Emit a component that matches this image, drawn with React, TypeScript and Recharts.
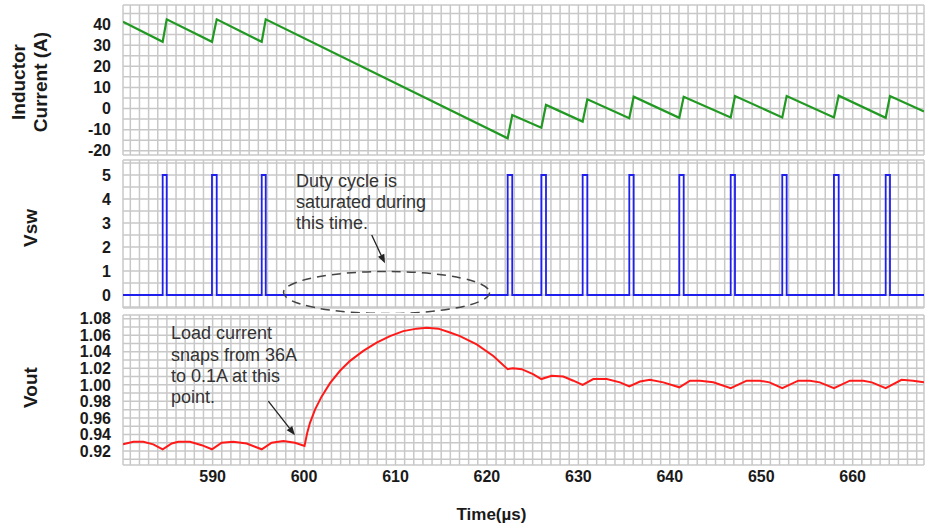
import { LineChart, Line, XAxis, YAxis, CartesianGrid, ReferenceDot, ReferenceLine } from 'recharts'

const FONT = '"Liberation Sans", Arial, Helvetica, sans-serif'
const W = 928

// time axis in µs
const timeDomain: [number, number] = [580.2, 667.8]
const timeLabels = [590, 600, 610, 620, 630, 640, 650, 660]
const timeGrid = Array.from({ length: 87 }, (_, k) => 581 + k)

// inductor current (A), corners of the ripple: [time, amps]
const inductorCurrent: [number, number][] = [
  [580.2, 41.1],
  [584.54, 31.6], [584.98, 42.2],
  [589.93, 31.6], [590.45, 42.2],
  [595.37, 31.6], [595.81, 42.2],
  [622.27, -14.1], [622.77, -3.1],
  [625.95, -9.1], [626.46, 1.7],
  [630.47, -6.2], [630.98, 4.4],
  [635.57, -4.6], [636.05, 5.6],
  [641.04, -4.4], [641.52, 5.6],
  [646.66, -4.2], [647.13, 5.9],
  [652.3, -4.2], [652.78, 5.9],
  [657.95, -4.2], [658.47, 6.1],
  [663.61, -4.4], [664.08, 5.9],
  [667.8, -1.4],
]
const currentLabels = [-20, -10, 0, 10, 20, 30, 40]
const currentGrid = [-20, -15, -10, -5, 0, 5, 10, 15, 20, 25, 30, 35, 40, 45]

// switch node: [on, off] of each pulse
const vswPulses: [number, number][] = [
  [584.54, 584.98], [589.93, 590.45], [595.37, 595.81],
  [622.27, 622.77], [625.95, 626.46], [630.47, 630.98],
  [635.57, 636.05], [641.04, 641.52], [646.66, 647.13],
  [652.3, 652.78], [657.95, 658.47], [663.61, 664.08],
]
const vswHigh = 5
const vswLabels = [0, 1, 2, 3, 4, 5]
const vswGrid = [-0.5, 0, 0.5, 1, 1.5, 2, 2.5, 3, 3.5, 4, 4.5, 5, 5.5]

// output voltage (V): [time, volts]
const vout: [number, number][] = [
  [580.2, 0.928], [581.33, 0.931], [582.42, 0.931], [583.51, 0.928],
  [584.54, 0.922],
  [585.53, 0.929], [586.25, 0.931], [587.53, 0.931], [588.81, 0.927],
  [589.93, 0.922],
  [590.99, 0.93], [592.26, 0.931], [593.73, 0.929],
  [595.37, 0.922],
  [596.46, 0.93], [597.73, 0.932], [599.01, 0.93],
  [600.05, 0.926],
  [600.35, 0.942], [600.65, 0.954], [601.2, 0.97], [601.93, 0.986], [602.84, 1.002], [603.93, 1.017],
  [605.03, 1.029], [606.48, 1.041], [607.94, 1.051], [609.4, 1.059], [610.85, 1.065],
  [612.32, 1.068], [613.41, 1.069], [614.68, 1.068], [615.8, 1.064], [617.05, 1.059],
  [618.88, 1.049], [620.7, 1.035],
  [622.27, 1.019],
  [622.84, 1.02], [623.8, 1.019], [625.04, 1.013],
  [625.95, 1.007],
  [627.08, 1.011], [628.35, 1.01], [629.45, 1.005],
  [630.47, 1.0],
  [631.63, 1.007], [633.1, 1.007], [634.55, 1.003],
  [635.57, 0.998],
  [636.74, 1.004], [637.83, 1.006], [639.29, 1.003],
  [641.04, 0.997],
  [642.21, 1.005], [643.3, 1.005], [644.76, 1.003],
  [646.66, 0.996],
  [648.41, 1.005], [649.86, 1.005], [650.9, 1.003],
  [652.3, 0.996],
  [654.05, 1.005], [655.33, 1.005], [656.4, 1.003],
  [657.95, 0.996],
  [659.7, 1.005], [661.16, 1.005], [662.1, 1.003],
  [663.61, 0.996],
  [665.34, 1.006], [666.6, 1.005], [667.8, 1.003],
]
const voutLabels = [0.92, 0.94, 0.96, 0.98, 1.0, 1.02, 1.04, 1.06, 1.08]
const voutGrid = Array.from({ length: 18 }, (_, k) => (91 + k) / 100)

// annotations
const dutyNote = ['Duty cycle is', 'saturated during', 'this time.']
const loadNote = ['Load current', 'snaps from 36A', 'to 0.1A at this', 'point.']

const currentData = inductorCurrent.map(([t, v]) => ({ t, v }))
const vswData = [
  { t: timeDomain[0], v: 0 },
  ...vswPulses.flatMap(([on, off]) => [{ t: on, v: vswHigh }, { t: off, v: 0 }]),
  { t: timeDomain[1], v: 0 },
]
const voutData = vout.map(([t, v]) => ({ t, v }))

const gridProps = { stroke: '#c8c8c8', strokeWidth: 1.5 }
const tickStyle = { fill: '#1a1a1a', fontSize: 16, fontWeight: 700, fontFamily: FONT }

const onlyLabels = (labels: number[]) => (v: number) =>
  labels.some((l) => Math.abs(l - v) < 1e-6) ? String(v) : ''

function AxisTitle({ viewBox, lines, baseX, shiftY }: any) {
  const cy = viewBox.y + viewBox.height / 2 + shiftY
  return (
    <text
      x={baseX}
      y={cy}
      transform={`rotate(-90 ${baseX} ${cy})`}
      textAnchor="middle"
      fontSize={19}
      fontWeight={700}
      fill="#1a1a1a"
      fontFamily={FONT}
    >
      {lines.map((l: string, i: number) => (
        <tspan key={l} x={baseX} dy={i ? 22 : 0}>
          {l}
        </tspan>
      ))}
    </text>
  )
}

function Note({ cx, cy, lines }: any) {
  return (
    <text x={cx} y={cy} fontSize={18} fill="#333" fontFamily={FONT}>
      {lines.map((l: string, i: number) => (
        <tspan key={l} x={cx} dy={i ? 21.3 : 0}>
          {l}
        </tspan>
      ))}
    </text>
  )
}

function Arrow({ x1, y1, x2, y2 }: any) {
  const a = Math.atan2(y2 - y1, x2 - x1)
  const len = 9
  const half = 3.5
  const bx = x2 - len * Math.cos(a)
  const by = y2 - len * Math.sin(a)
  const p1 = `${bx + half * Math.sin(a)},${by - half * Math.cos(a)}`
  const p2 = `${bx - half * Math.sin(a)},${by + half * Math.cos(a)}`
  return (
    <g>
      <line x1={x1} y1={y1} x2={bx} y2={by} stroke="#222" strokeWidth={1.3} />
      <polygon points={`${x2},${y2} ${p1} ${p2}`} fill="#222" />
    </g>
  )
}

// time axis without labels, only there to feed the vertical grid
function HiddenTime() {
  return (
    <XAxis
      dataKey="t"
      type="number"
      domain={timeDomain}
      ticks={timeGrid}
      interval={0}
      allowDataOverflow
      height={1}
      tick={tickStyle}
      tickFormatter={() => ''}
      tickLine={false}
      axisLine={false}
    />
  )
}

export default function App() {
  return (
    <div
      style={{
        position: 'absolute',
        left: 0,
        top: 0,
        width: W,
        height: 525,
        background: '#fff',
        fontFamily: FONT,
        overflow: 'hidden',
      }}
    >
      {/* inductor current */}
      <div style={{ position: 'absolute', left: 0, top: 0 }}>
        <LineChart width={W} height={160} data={currentData} margin={{ top: 5, right: 4, bottom: 4, left: 0 }}>
          <CartesianGrid {...gridProps} />
          {HiddenTime()}
          <YAxis
            type="number"
            domain={[-22, 49]}
            ticks={currentGrid}
            interval={0}
            width={123}
            tickFormatter={onlyLabels(currentLabels)}
            tick={tickStyle}
            tickLine={false}
            axisLine={false}
            tickSize={6}
            tickMargin={6}
            label={{
              content: (p: any) => (
                <AxisTitle viewBox={p.viewBox} lines={['Inductor', 'Current (A)']} baseX={25} shiftY={2} />
              ),
            }}
          />
          <Line
            type="linear"
            dataKey="v"
            stroke="#229922"
            strokeWidth={2.2}
            dot={false}
            activeDot={false}
            isAnimationActive={false}
          />
        </LineChart>
      </div>

      {/* switch node voltage */}
      <div style={{ position: 'absolute', left: 0, top: 155 }}>
        <LineChart width={W} height={158} data={vswData} margin={{ top: 5, right: 4, bottom: 4, left: 0 }}>
          <CartesianGrid {...gridProps} />
          {HiddenTime()}
          <YAxis
            type="number"
            domain={[-0.542, 5.625]}
            ticks={vswGrid}
            interval={0}
            width={123}
            tickFormatter={onlyLabels(vswLabels)}
            tick={tickStyle}
            tickLine={false}
            axisLine={false}
            tickSize={6}
            tickMargin={6}
            label={{
              content: (p: any) => <AxisTitle viewBox={p.viewBox} lines={['Vsw']} baseX={36.5} shiftY={-6} />,
            }}
          />
          <Line
            type="stepAfter"
            dataKey="v"
            stroke="#1f1fee"
            strokeWidth={1.8}
            dot={false}
            activeDot={false}
            isAnimationActive={false}
          />
          <ReferenceDot
            x={609.02}
            y={0.104}
            shape={(p: any) => (
              <ellipse
                cx={p.cx}
                cy={p.cy}
                rx={103}
                ry={21}
                fill="none"
                stroke="#444"
                strokeWidth={1.5}
                strokeDasharray="9 6"
              />
            )}
          />
          <ReferenceDot x={599.12} y={4.51} shape={(p: any) => <Note cx={p.cx} cy={p.cy} lines={dutyNote} />} />
          <ReferenceLine
            segment={[
              { x: 607.4, y: 2.5 },
              { x: 608.85, y: 1.32 },
            ]}
            shape={(p: any) => <Arrow {...p} />}
          />
        </LineChart>
      </div>

      {/* output voltage */}
      <div style={{ position: 'absolute', left: 0, top: 310 }}>
        <LineChart width={W} height={215} data={voutData} margin={{ top: 5, right: 4, bottom: 0, left: 0 }}>
          <CartesianGrid {...gridProps} />
          <XAxis
            dataKey="t"
            type="number"
            domain={timeDomain}
            ticks={timeGrid}
            interval={0}
            allowDataOverflow
            height={60}
            tickFormatter={onlyLabels(timeLabels)}
            tick={tickStyle}
            tickLine={false}
            axisLine={false}
            tickSize={4}
            tickMargin={2}
            label={{
              content: (p: any) => (
                <text
                  x={p.viewBox.x + p.viewBox.width * 0.46}
                  y={p.viewBox.y + 55}
                  textAnchor="middle"
                  fontSize={17}
                  fontWeight={700}
                  fill="#1a1a1a"
                  fontFamily={FONT}
                >
                  Time(µs)
                </text>
              ),
            }}
          />
          <YAxis
            type="number"
            domain={[0.903, 1.0845]}
            ticks={voutGrid}
            interval={0}
            width={123}
            tickFormatter={(v: number) => (voutLabels.some((l) => Math.abs(l - v) < 1e-6) ? v.toFixed(2) : '')}
            tick={tickStyle}
            tickLine={false}
            axisLine={false}
            tickSize={6}
            tickMargin={6}
            label={{
              content: (p: any) => <AxisTitle viewBox={p.viewBox} lines={['Vout']} baseX={36.5} shiftY={-2.5} />,
            }}
          />
          <Line
            type="linear"
            dataKey="v"
            stroke="#ff1a1a"
            strokeWidth={2}
            dot={false}
            activeDot={false}
            isAnimationActive={false}
          />
          <ReferenceDot x={585.45} y={1.055} shape={(p: any) => <Note cx={p.cx} cy={p.cy} lines={loadNote} />} />
          <ReferenceLine
            segment={[
              { x: 596.09, y: 0.9804 },
              { x: 599.01, y: 0.939 },
            ]}
            shape={(p: any) => <Arrow {...p} />}
          />
        </LineChart>
      </div>
    </div>
  )
}
